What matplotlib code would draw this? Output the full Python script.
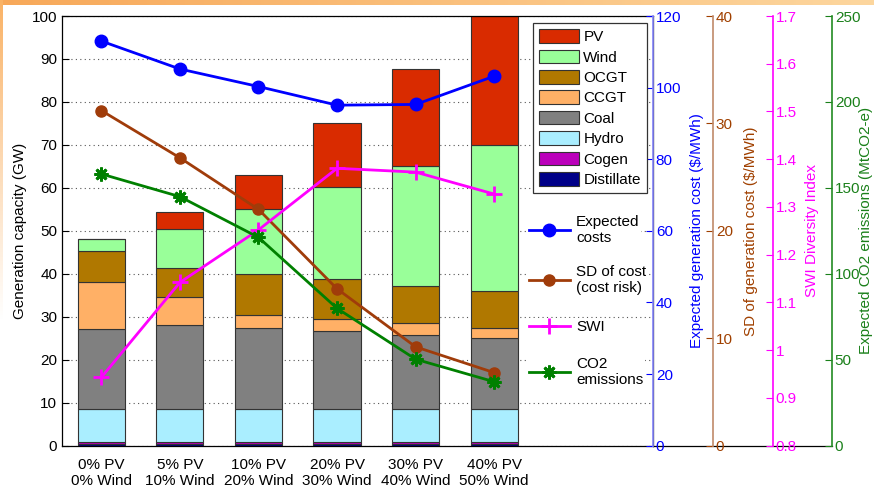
import numpy as np
import matplotlib
matplotlib.use("Agg")
import matplotlib.pyplot as plt
from matplotlib.lines import Line2D
from matplotlib.ticker import FuncFormatter

plt.rcParams['font.family'] = ['Liberation Sans', 'DejaVu Sans']
plt.rcParams['font.size'] = 11

# scenarios
scenarios = ["0% PV\n0% Wind", "5% PV\n10% Wind", "10% PV\n20% Wind",
             "20% PV\n30% Wind", "30% PV\n40% Wind", "40% PV\n50% Wind"]

# generation capacity (GW), bottom to top of each stack
distillate = [0.3, 0.3, 0.3, 0.3, 0.3, 0.3]
cogen = [0.6, 0.6, 0.6, 0.6, 0.6, 0.6]
hydro = [7.6, 7.6, 7.6, 7.6, 7.6, 7.6]
coal = [18.6, 19.7, 18.9, 18.1, 17.2, 16.5]
ccgt = [10.9, 6.5, 3.1, 2.9, 2.8, 2.4]
ocgt = [7.3, 6.7, 9.4, 9.2, 8.7, 8.6]
wind = [2.9, 9.0, 15.2, 21.4, 27.8, 33.9]
pv = [0.0, 4.0, 7.9, 15.1, 22.6, 30.1]

# lines
exp_cost = [113.0, 105.2, 100.3, 95.1, 95.3, 103.2]   # $/MWh
sd_cost = [31.2, 26.8, 22.0, 14.6, 9.2, 6.8]          # $/MWh
swi = [0.943, 1.142, 1.252, 1.381, 1.373, 1.327]
co2 = [158.1, 144.9, 121.2, 79.9, 50.3, 37.2]         # MtCO2-e

W, H = 874, 491
fig = plt.figure(figsize=(W / 100, H / 100), dpi=100)
fig.patch.set_facecolor('white')

# slide background: orange strip at top and fading strip on the left
bg = np.ones((H, W, 3))
t = np.linspace(0, 1, W)[:, None]
top_col = (1 - t) * np.array([0.97, 0.66, 0.35]) + t * np.array([0.99, 0.84, 0.62])
bg[:5, :, :] = top_col[None, :, :]
fade = np.clip(np.linspace(0, 1, H) / 0.65, 0, 1)[:, None]
left_col = (1 - fade) * np.array([0.98, 0.70, 0.40]) + fade * np.array([1, 1, 1])
bg[:, :3, :] = left_col[:, None, :]
ax_bg = fig.add_axes([0, 0, 1, 1], zorder=-10)
ax_bg.imshow(bg, aspect='auto', interpolation='bilinear')
ax_bg.axis('off')

ax = fig.add_axes([62 / W, 45.3 / H, 591 / W, 429.7 / H])

x = np.arange(1, len(scenarios) + 1)
stacks = [("Distillate", distillate, "#000088"),
          ("Cogen", cogen, "#bb00bb"),
          ("Hydro", hydro, "#aaeeff"),
          ("Coal", coal, "#808080"),
          ("CCGT", ccgt, "#ffb066"),
          ("OCGT", ocgt, "#b07800"),
          ("Wind", wind, "#99ff99"),
          ("PV", pv, "#d92b00")]
bottom = np.zeros(len(x))
bar_handles = {}
for name, vals, col in stacks:
    b = ax.bar(x, vals, 0.6, bottom=bottom, color=col, edgecolor='#333333',
               linewidth=0.8, label=name, zorder=2)
    bar_handles[name] = b
    bottom += np.array(vals)

ax.set_xlim(0.5, 8.02)
ax.set_ylim(0, 100)
ax.set_yticks(np.arange(0, 101, 10))
ax.set_xticks(x)
ax.set_xticklabels(scenarios, fontsize=11)
ax.tick_params(axis='x', length=0, pad=9)
ax.tick_params(axis='y', direction='in', length=5, right=True, labelsize=11)
ax.yaxis.grid(True, linestyle=(0, (1, 3)), color='#555555', linewidth=0.8)
ax.set_axisbelow(True)
ax.set_ylabel("Generation capacity (GW)", fontsize=11, labelpad=3)
for s in ax.spines.values():
    s.set_color('black')
    s.set_linewidth(0.9)

# bottom line under the extra axes
ax.add_line(Line2D([1, 1.303], [0, 0], transform=ax.transAxes, color='black',
                   linewidth=0.9, clip_on=False))


def extra_axis(pos, spine_col, tick_col, ylim, ticks, label, labelpad):
    a = ax.twinx()
    a.spines['right'].set_position(('axes', pos))
    for k in ('top', 'bottom', 'left'):
        a.spines[k].set_visible(False)
    a.spines['right'].set_color(spine_col)
    a.spines['right'].set_linewidth(1.2)
    a.set_ylim(*ylim)
    a.set_yticks(ticks)
    a.yaxis.set_major_formatter(FuncFormatter(lambda v, p: f"{v:g}"))
    a.tick_params(axis='y', direction='in', length=5, colors=tick_col,
                  labelsize=11, pad=2)
    a.set_ylabel(label, color=tick_col, fontsize=11, labelpad=labelpad)
    return a


ax_cost = extra_axis(1.0, '#8888ff', '#0000ff', (0, 120), np.arange(0, 121, 20),
                     "Expected generation cost ($/MWh)", 6)
ax_sd = extra_axis((713 - 62) / 591, '#c08a6a', '#a04000', (0, 40), np.arange(0, 41, 10),
                   "SD of generation cost ($/MWh)", 8)
ax_swi = extra_axis((773 - 62) / 591, '#ff00ff', '#ff00ff', (0.8, 1.7),
                    np.round(np.arange(0.8, 1.71, 0.1), 1), "SWI Diversity Index", 6)
ax_co2 = extra_axis((832 - 62) / 591, '#228b22', '#1a801a', (0, 250), np.arange(0, 251, 50),
                    "Expected CO2 emissions (MtCO2-e)", -1)

l_cost, = ax_cost.plot(x, exp_cost, color='#0000ff', lw=2, marker='o', ms=9,
                       label="Expected\ncosts", clip_on=False)
l_sd, = ax_sd.plot(x, sd_cost, color='#a03c0a', lw=2, marker='o', ms=8,
                   label="SD of cost\n(cost risk)", clip_on=False)
l_swi, = ax_swi.plot(x, swi, color='#ff00ff', lw=2, marker='+', ms=11, mew=2,
                     label="SWI", clip_on=False)
l_co2, = ax_co2.plot(x, co2, color='#008000', lw=2, marker=(8, 2, 0), ms=10, mew=2,
                     label="CO2\nemissions", clip_on=False)

# bar legend
order = ["PV", "Wind", "OCGT", "CCGT", "Coal", "Hydro", "Cogen", "Distillate"]
leg1 = ax_co2.legend([bar_handles[n] for n in order], order, loc='upper left',
                     bbox_to_anchor=(533 / W, 1 - 23 / H), bbox_transform=fig.transFigure,
                     fontsize=11, handlelength=2.6, handleheight=1.0, labelspacing=0.35,
                     handletextpad=0.3, borderpad=0.4, borderaxespad=0, fancybox=False,
                     framealpha=1, edgecolor='#333333')
leg1.get_frame().set_linewidth(0.9)
ax_co2.add_artist(leg1)

# line legend entries
for line, yc in [(l_cost, 230), (l_sd, 280), (l_swi, 327), (l_co2, 372)]:
    lg = ax_co2.legend([line], [line.get_label()], loc='center left',
                       bbox_to_anchor=(527 / W, 1 - yc / H), bbox_transform=fig.transFigure,
                       fontsize=11, handlelength=2.7, handletextpad=0.4, borderpad=0.1,
                       borderaxespad=0, numpoints=1, frameon=True, framealpha=1,
                       edgecolor='none', facecolor='white')
    ax_co2.add_artist(lg)

fig.savefig("out.png", dpi=100)
